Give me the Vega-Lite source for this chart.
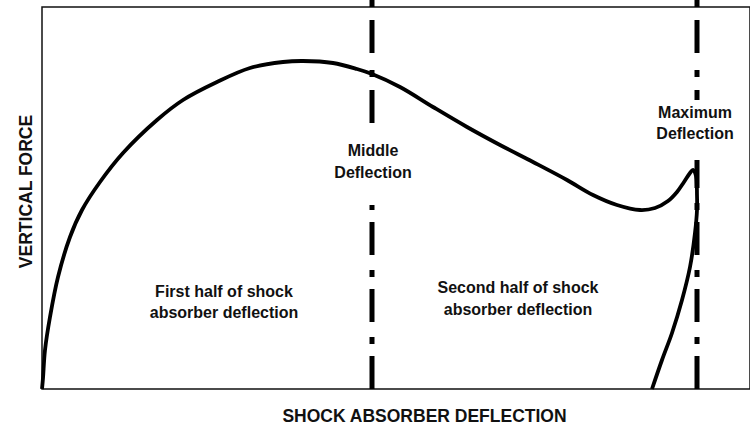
{
  "$schema": "https://vega.github.io/schema/vega-lite/v6.json",
  "width": 708,
  "height": 382,
  "autosize": {"type": "none"},
  "padding": {"left": 42, "top": 7, "right": 0, "bottom": 38},
  "background": "white",
  "config": {"view": {"stroke": "#111", "strokeWidth": 1.5}, "font": "Liberation Sans"},
  "datasets": {
    "curve": [
      {"order": 1, "x": 0, "y": 0}, {"order": 2, "x": 1, "y": 11}, {"order": 3, "x": 3, "y": 39},
      {"order": 4, "x": 8, "y": 72}, {"order": 5, "x": 16, "y": 112}, {"order": 6, "x": 28, "y": 152},
      {"order": 7, "x": 40, "y": 179}, {"order": 8, "x": 58, "y": 207}, {"order": 9, "x": 81, "y": 236},
      {"order": 10, "x": 115, "y": 269}, {"order": 11, "x": 141, "y": 289}, {"order": 12, "x": 175, "y": 307},
      {"order": 13, "x": 208, "y": 321}, {"order": 14, "x": 241, "y": 327}, {"order": 15, "x": 261, "y": 328},
      {"order": 16, "x": 291, "y": 326}, {"order": 17, "x": 315, "y": 320}, {"order": 18, "x": 330, "y": 315},
      {"order": 19, "x": 358, "y": 302}, {"order": 20, "x": 391, "y": 282}, {"order": 21, "x": 425, "y": 262},
      {"order": 22, "x": 458, "y": 244}, {"order": 23, "x": 491, "y": 227}, {"order": 24, "x": 525, "y": 209},
      {"order": 25, "x": 551, "y": 194}, {"order": 26, "x": 575, "y": 184}, {"order": 27, "x": 598, "y": 179},
      {"order": 28, "x": 613, "y": 181}, {"order": 29, "x": 626, "y": 188}, {"order": 30, "x": 635, "y": 197},
      {"order": 31, "x": 642, "y": 207}, {"order": 32, "x": 648, "y": 216}, {"order": 33, "x": 651, "y": 219},
      {"order": 34, "x": 654, "y": 213}, {"order": 35, "x": 655, "y": 194}, {"order": 36, "x": 655, "y": 179},
      {"order": 37, "x": 653, "y": 156}, {"order": 38, "x": 648, "y": 122}, {"order": 39, "x": 640, "y": 89},
      {"order": 40, "x": 630, "y": 56}, {"order": 41, "x": 620, "y": 29}, {"order": 42, "x": 610, "y": 0}
    ],
    "rulesBottom": [
      {"x": 330, "y": 0, "y2": 184},
      {"x": 655, "y": 0, "y2": 229}
    ],
    "rulesTop": [
      {"x": 330, "y": 389, "y2": 252},
      {"x": 655, "y": 389, "y2": 289}
    ],
    "labels": [
      {"label": "Middle", "x": 331, "y": 233},
      {"label": "Deflection", "x": 331, "y": 211},
      {"label": "First half of shock", "x": 182, "y": 92},
      {"label": "absorber deflection", "x": 182, "y": 71},
      {"label": "Second half of shock", "x": 476, "y": 96},
      {"label": "absorber deflection", "x": 476, "y": 74},
      {"label": "Maximum", "x": 653, "y": 271},
      {"label": "Deflection", "x": 653, "y": 250}
    ]
  },
  "encoding": {
    "x": {
      "field": "x", "type": "quantitative",
      "scale": {"domain": [0, 708], "nice": false, "zero": false},
      "axis": {
        "title": "SHOCK ABSORBER DEFLECTION", "labels": false, "ticks": false, "domain": false, "grid": false,
        "titleFont": "Liberation Sans", "titleFontSize": 17.5, "titleFontWeight": "bold", "titleColor": "#111",
        "titleX": 382, "titleY": 32, "titleBaseline": "alphabetic", "titleAlign": "center"
      }
    },
    "y": {
      "field": "y", "type": "quantitative",
      "scale": {"domain": [0, 382], "nice": false, "zero": false},
      "axis": {
        "title": "VERTICAL FORCE", "labels": false, "ticks": false, "domain": false, "grid": false,
        "titleFont": "Liberation Sans", "titleFontSize": 17.5, "titleFontWeight": "bold", "titleColor": "#111",
        "titleAngle": 270, "titleX": -11, "titleY": 184, "titleBaseline": "alphabetic", "titleAlign": "center"
      }
    }
  },
  "layer": [
    {
      "data": {"name": "rulesBottom"},
      "mark": {"type": "rule", "color": "black", "strokeWidth": 5, "strokeDash": [33, 12, 7, 15], "strokeCap": "butt"},
      "encoding": {"y2": {"field": "y2"}}
    },
    {
      "data": {"name": "rulesTop"},
      "mark": {"type": "rule", "color": "black", "strokeWidth": 5, "strokeDash": [7, 13, 33, 17], "strokeCap": "butt"},
      "encoding": {"y2": {"field": "y2"}}
    },
    {
      "data": {"name": "curve"},
      "mark": {"type": "line", "color": "black", "strokeWidth": 3.8, "interpolate": "catmull-rom"},
      "encoding": {"order": {"field": "order", "type": "quantitative"}}
    },
    {
      "data": {"name": "labels"},
      "mark": {"type": "text", "align": "center", "baseline": "alphabetic", "font": "Liberation Sans", "fontSize": 16, "fontWeight": "bold", "color": "#111"},
      "encoding": {"text": {"field": "label"}}
    }
  ]
}
